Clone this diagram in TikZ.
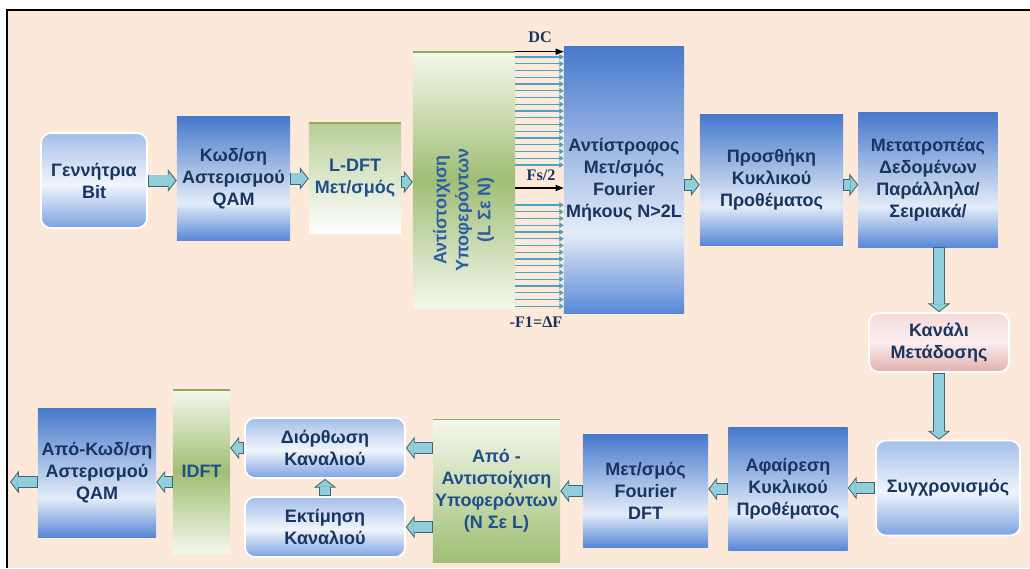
\documentclass[tikz,border=0pt]{standalone}
\usepackage{fontspec}
\setmainfont{Liberation Sans}
\newfontfamily\serifbf{Liberation Serif}
\usepackage{graphicx}
\usepackage{tikz}
\usetikzlibrary{arrows.meta}
\definecolor{paper}{HTML}{FDE9D9}
\definecolor{ink}{HTML}{17355F}
\definecolor{inkg}{HTML}{1F4E8C}
\definecolor{rotblue}{HTML}{2E5DA8}
\definecolor{blueT}{HTML}{4779CC}
\definecolor{blueL}{HTML}{E4ECF8}
\definecolor{blueB}{HTML}{5888D6}
\definecolor{rblueT}{HTML}{A4BFEA}
\definecolor{rblueL}{HTML}{F1F5FC}
\definecolor{rblueB}{HTML}{7BA2E0}
\definecolor{greenD}{HTML}{A0BE74}
\definecolor{greenL}{HTML}{F4F8EC}
\definecolor{greenE}{HTML}{8DAA5E}
\definecolor{pinkT}{HTML}{F5DADA}
\definecolor{pinkL}{HTML}{FBEEEE}
\definecolor{pinkB}{HTML}{E3AEAE}
\definecolor{arrfill}{HTML}{92CDDC}
\definecolor{arrline}{HTML}{3A6874}
\definecolor{subline}{HTML}{4BA3C3}
% box shadings: dark at the top, light low down
\pgfdeclareverticalshading{bluebox}{100bp}{color(0bp)=(blueB); color(25bp)=(blueB);
  color(40bp)=(blueL); color(75bp)=(blueT); color(100bp)=(blueT)}
\pgfdeclareverticalshading{rbluebox}{100bp}{color(0bp)=(rblueB); color(25bp)=(rblueB);
  color(48bp)=(rblueL); color(75bp)=(rblueT); color(100bp)=(rblueT)}
\tikzset{
  box/.style={rectangle, inner sep=0pt, align=center, text=ink,
    font=\bfseries\fontsize{12.8}{15.6}\selectfont},
  blk/.style={box, shade, shading=bluebox},
  rblk/.style={box, shade, shading=rbluebox, draw=white, line width=1.2pt, rounded corners=0.25cm},
  gblk/.style={box, text=inkg, top color=greenL, bottom color=greenL, middle color=greenD,
    path picture={\draw[greenE, line width=1.2pt] (path picture bounding box.north west)
      -- (path picture bounding box.north east);}},
  pblk/.style={box, top color=pinkT, bottom color=pinkB, middle color=pinkL,
    draw=white, line width=1.2pt, rounded corners=0.25cm},
  flow/.style={draw=arrline, line width=0.3cm,
    -{Triangle[length=0.22cm, width=0.56cm, line width=0.6pt, fill=arrfill]},
    postaction={draw=arrfill, line width=0.26cm, -, shorten >=0.2cm, shorten <=0.6pt}},
  sub/.style={draw=subline, line width=0.9pt, -{Triangle[length=0.11cm, width=0.14cm]}},
  freq/.style={draw=black, line width=0.9pt, -{Triangle[length=0.2cm, width=0.15cm]}},
  flab/.style={text=ink, font=\serifbf\bfseries\fontsize{11.5}{13}\selectfont},
}

\begin{document}
\begin{tikzpicture}[x=0.025cm, y=-0.025cm]
  \fill[white] (0,0) rectangle (1030,568);
  \useasboundingbox (0,0) rectangle (1030,568);
  \fill[paper] (7,10) rectangle (1030,568);
  \draw[black, line width=0.8pt] (7,568) -- (7,10) -- (1030,10);

  % transmitter
  \node[rblk, minimum width=2.65cm, minimum height=2.375cm] (gen) at (94,180.5) {Γεννήτρια\\Bit};
  \node[blk, minimum width=2.825cm, minimum height=3.075cm] (qamcod) at (233.5,178.5) {Κωδ/ση\\Αστερισμού\\QAM};
  \node[gblk, top color=greenD!70!greenL, bottom color=white,
    minimum width=2.3cm, minimum height=2.75cm] (ldft) at (355,178) {L-DFT\\Μετ/σμός};
  \node[gblk, text=rotblue, minimum width=2.55cm, minimum height=6.4cm] (submap) at (464,180)
    {\rotatebox{90}{\begin{tabular}{@{}c@{}}Αντίστοιχιση\\Υποφερόντων\\(L Σε N)\end{tabular}\hspace{1.5cm}}};
  \node[blk, minimum width=3.0cm, minimum height=6.65cm] (ifft) at (624,180) {Αντίστροφος\\Μετ/σμός\\Fourier\\Μήκους N>2L};
  \node[blk, minimum width=3.575cm, minimum height=3.25cm] (addcp) at (771.5,180) {Προσθήκη\\Κυκλικού\\Προθέματος};
  \node[blk, minimum width=3.475cm, minimum height=3.35cm] (ps) at (928,180) {Μετατροπέας\\Δεδομένων\\Παράλληλα/\\Σειριακά/};
  \node[pblk, minimum width=3.5cm, minimum height=1.475cm] (chan) at (939,342.5) {Κανάλι\\Μετάδοσης};

  % receiver
  \node[rblk, minimum width=3.6cm, minimum height=2.375cm] (sync) at (948,488) {Συγχρονισμός};
  \node[blk, minimum width=2.975cm, minimum height=3.05cm] (remcp) at (788,489) {Αφαίρεση\\Κυκλικού\\Προθέματος};
  \node[blk, minimum width=3.125cm, minimum height=2.8cm] (dft) at (645.5,491) {Μετ/σμός\\Fourier\\DFT};
  \node[gblk, top color=greenL, bottom color=greenD,
    minimum width=3.175cm, minimum height=3.575cm] (demap) at (496.5,491) {Από -\\Αντιστοίχιση\\Υποφερόντων\\(Ν Σε L)};
  \node[rblk, minimum width=4.0cm, minimum height=1.5cm] (eq) at (325,448) {Διόρθωση\\Καναλιού};
  \node[rblk, minimum width=4.0cm, minimum height=1.5cm] (est) at (325,527) {Εκτίμηση\\Καναλιού};
  \node[gblk, minimum width=1.425cm, minimum height=4.075cm] (idft) at (201.5,471.5) {IDFT};
  \node[blk, minimum width=2.95cm, minimum height=3.2cm] (qamdec) at (97,473) {Από-Κωδ/ση\\Αστερισμού\\QAM};
  \coordinate (out) at (10,482);

  % subcarriers into the inverse transform
  \foreach \y in {57,63.75,...,166}
    \draw[sub] (submap.east |- 0,\y) -- (ifft.west |- 0,\y);
  \foreach \y in {205,211.75,...,307}
    \draw[sub] (submap.east |- 0,\y) -- (ifft.west |- 0,\y);
  \draw[freq] (submap.north east) -- (submap.north east -| ifft.west);
  \draw[freq] (submap.east |- 0,188) -- (ifft.west |- 0,188);
  \node[flab] (dc) at (540,37) {DC};
  \node[flab] (fs) at (541,175) {Fs/2};
  \node[flab] (f1) at (536,322) {-F1=ΔF};

  % signal flow
  \draw[flow] (gen.east) -- (gen.east -| qamcod.west);
  \draw[flow] (qamcod.east) -- (qamcod.east -| ldft.west);
  \draw[flow] ([yshift=-0.1cm]ldft.east) -- ([yshift=-0.1cm]ldft.east -| submap.west);
  \draw[flow] ([yshift=-0.12cm]ifft.east) -- ([yshift=-0.12cm]ifft.east -| addcp.west);
  \draw[flow] ([yshift=-0.12cm]addcp.east) -- ([yshift=-0.12cm]addcp.east -| ps.west);
  \draw[flow] (ps.south -| chan.north) -- (chan.north);
  \draw[flow] (chan.south) -- (chan.south |- sync.north);
  \draw[flow] (sync.west) -- (sync.west -| remcp.east);
  \draw[flow] (remcp.west) -- (remcp.west -| dft.east);
  \draw[flow] (dft.west) -- (dft.west -| demap.east);
  \draw[flow] (demap.west |- eq.east) -- (eq.east);
  \draw[flow] (demap.west |- est.east) -- (est.east);
  \draw[flow] (est.north) -- (eq.south);
  \draw[flow] (eq.west) -- (eq.west -| idft.east);
  \draw[flow] (idft.west |- out) -- (qamdec.east |- out);
  \draw[flow] (qamdec.west |- out) -- (out);
\end{tikzpicture}
\end{document}
